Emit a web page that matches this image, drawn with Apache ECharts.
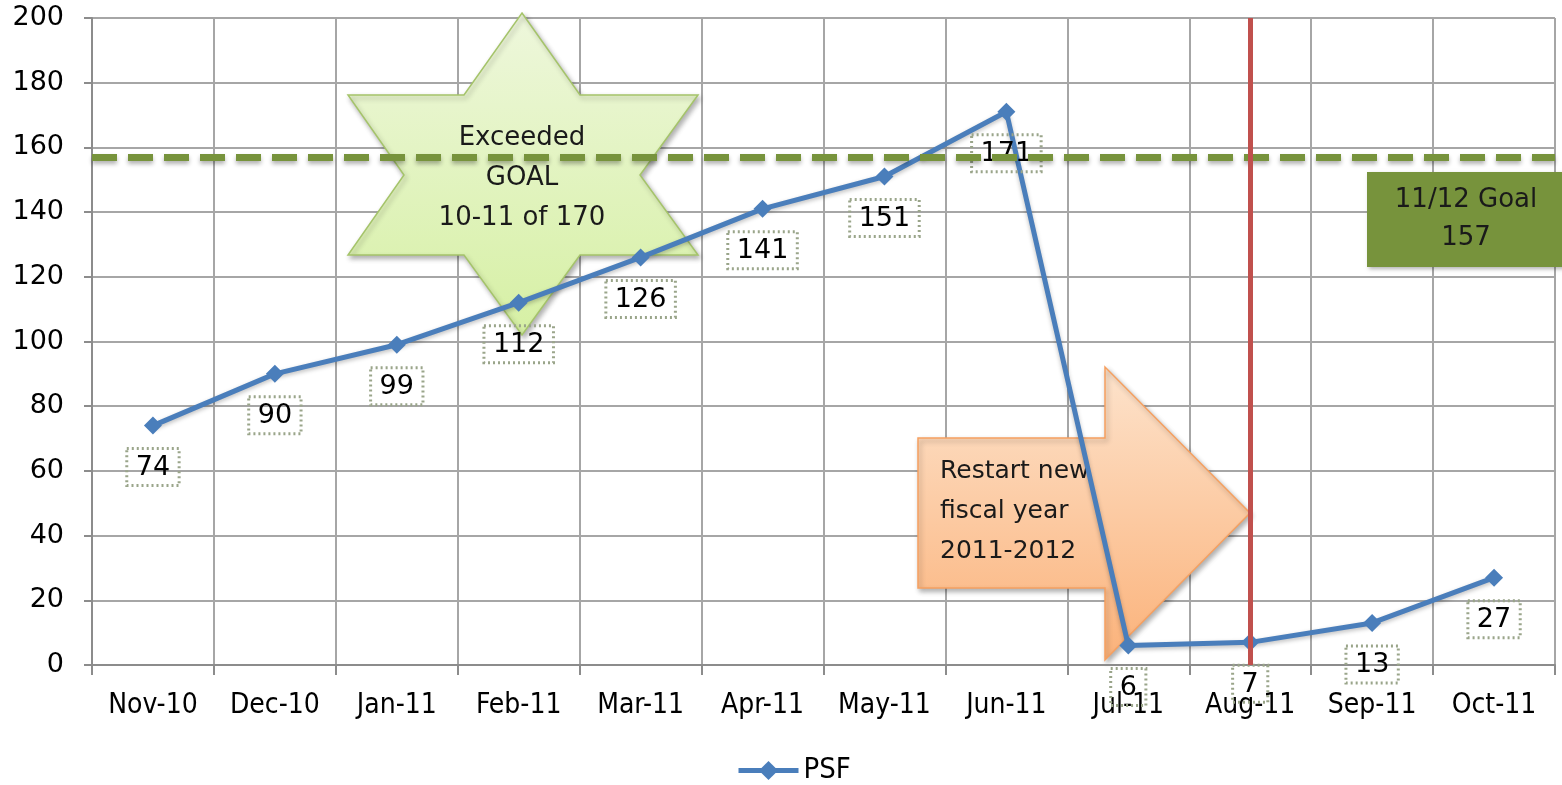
<!DOCTYPE html>
<html>
<head>
<meta charset="utf-8">
<script src="https://cdn.jsdelivr.net/npm/echarts@6/dist/echarts.min.js"></script>
<style>html,body{margin:0;padding:0;background:#fff;}#c{width:1562px;height:785px;}</style>
</head>
<body>
<div id="c"></div>
<script>
var categories = ['Nov-10','Dec-10','Jan-11','Feb-11','Mar-11','Apr-11','May-11','Jun-11','Jul-11','Aug-11','Sep-11','Oct-11'];
var psf = [74, 90, 99, 112, 126, 141, 151, 171, 6, 7, 13, 27];
var goalValue = 157;
var restartMonth = 'Aug-11';
var yTicks = [0, 20, 40, 60, 80, 100, 120, 140, 160, 180, 200];

var chart = echarts.init(document.getElementById('c'));
var option = {
  animation: false,
  backgroundColor: '#ffffff',
  grid: { left: 92, right: 7, top: 18, bottom: 120 },
  xAxis: {
    type: 'category',
    data: categories,
    boundaryGap: true,
    axisLine: { lineStyle: { color: '#8c8c8c', width: 2 } },
    axisTick: { show: true, interval: 0, length: 10, lineStyle: { color: '#8c8c8c', width: 2 } },
    axisLabel: { interval: 0, color: '#000', fontFamily: '"DejaVu Sans Condensed", "DejaVu Sans"', fontSize: 28, margin: 27 },
    splitLine: { show: true, interval: 0, lineStyle: { color: '#a6a6a6', width: 2 } }
  },
  yAxis: {
    type: 'value',
    min: yTicks[0], max: yTicks[yTicks.length - 1], interval: 20,
    axisLine: { show: true, lineStyle: { color: '#8c8c8c', width: 2 } },
    axisTick: { show: true, length: 8, lineStyle: { color: '#8c8c8c', width: 2 } },
    axisLabel: { color: '#000', fontFamily: 'DejaVu Sans', fontSize: 27, margin: 28 },
    splitLine: { show: true, lineStyle: { color: '#a6a6a6', width: 2 } }
  },
  legend: {
    data: ['PSF'], top: 751, left: 731,
    itemWidth: 60, itemHeight: 24, itemGap: 4,
    lineStyle: { width: 5 },
    textStyle: { fontFamily: '"DejaVu Sans Condensed", "DejaVu Sans"', fontSize: 29, color: '#000' }
  },
  series: [{
    name: 'PSF',
    type: 'line',
    data: psf,
    symbol: 'diamond',
    symbolSize: 18,
    z: 3,
    lineStyle: { color: '#4a7ebb', width: 5, shadowColor: 'rgba(0,0,0,0.25)', shadowBlur: 4, shadowOffsetY: 2 },
    itemStyle: { color: '#4a7ebb' },
    label: {
      show: true, position: 'bottom', distance: 14,
      fontFamily: 'DejaVu Sans', fontSize: 27, color: '#000',
      padding: [6, 9, 4, 9],
      borderColor: '#9aa58a', borderWidth: 1.5, borderType: [2, 3],
      backgroundColor: 'transparent'
    },
    markLine: {
      silent: true, symbol: 'none', label: { show: false },
      data: [
        { yAxis: goalValue, lineStyle: { color: '#77933c', width: 7, type: [25, 11], shadowColor: 'rgba(0,0,0,0.3)', shadowBlur: 4, shadowOffsetY: 3 } },
        { xAxis: restartMonth, lineStyle: { color: '#c0504d', width: 5, type: 'solid' } }
      ]
    }
  }]
};
chart.setOption(option);

// annotations placed relative to the plot
var star = {
  type: 'group', z: 100, children: [
    { type: 'polygon', shape: { points: [[522,13],[580,95],[698,95],[640,175],[698,255],[580,255],[522,335],[464,255],[348,255],[404,175],[348,95],[464,95]] },
      style: { fill: new echarts.graphic.LinearGradient(0,0,0,1,[{offset:0,color:'#eef7dc'},{offset:1,color:'#d6f0a4'}]), stroke: '#a5c46a', lineWidth: 1.5, shadowColor: 'rgba(0,0,0,0.3)', shadowBlur: 5, shadowOffsetX: 2, shadowOffsetY: 3 } },
    { type: 'text', style: { text: 'Exceeded\nGOAL\n10-11 of 170', x: 522, y: 178, align: 'center', verticalAlign: 'middle', font: '26px "DejaVu Sans"', lineHeight: 40, fill: '#1a1a1a' } }
  ]
};
var arrow = {
  type: 'group', z: 100, children: [
    { type: 'polygon', shape: { points: [[918,438],[1105,438],[1105,367],[1250,513],[1105,660],[1105,588],[918,588]] },
      style: { fill: new echarts.graphic.LinearGradient(0,0,0,1,[{offset:0,color:'#fde3cc'},{offset:1,color:'#fbb27a'}]), stroke: '#f6a060', lineWidth: 1.5, shadowColor: 'rgba(0,0,0,0.3)', shadowBlur: 5, shadowOffsetX: 2, shadowOffsetY: 3 } },
    { type: 'text', style: { text: 'Restart new\nfiscal year\n2011-2012', x: 940, y: 511, align: 'left', verticalAlign: 'middle', font: '25px "DejaVu Sans"', lineHeight: 40, fill: '#1a1a1a' } }
  ]
};
var goalBox = {
  type: 'group', z: 100, children: [
    { type: 'rect', shape: { x: 1367, y: 172, width: 200, height: 95 },
      style: { fill: '#77933c', shadowColor: 'rgba(0,0,0,0.3)', shadowBlur: 4, shadowOffsetX: 2, shadowOffsetY: 2 } },
    { type: 'text', style: { text: '11/12 Goal\n157', x: 1466, y: 219, align: 'center', verticalAlign: 'middle', font: '26px "DejaVu Sans"', lineHeight: 38, fill: '#1a1a1a' } }
  ]
};
chart.setOption({ graphic: [star, arrow, goalBox] });
</script>
</body>
</html>
